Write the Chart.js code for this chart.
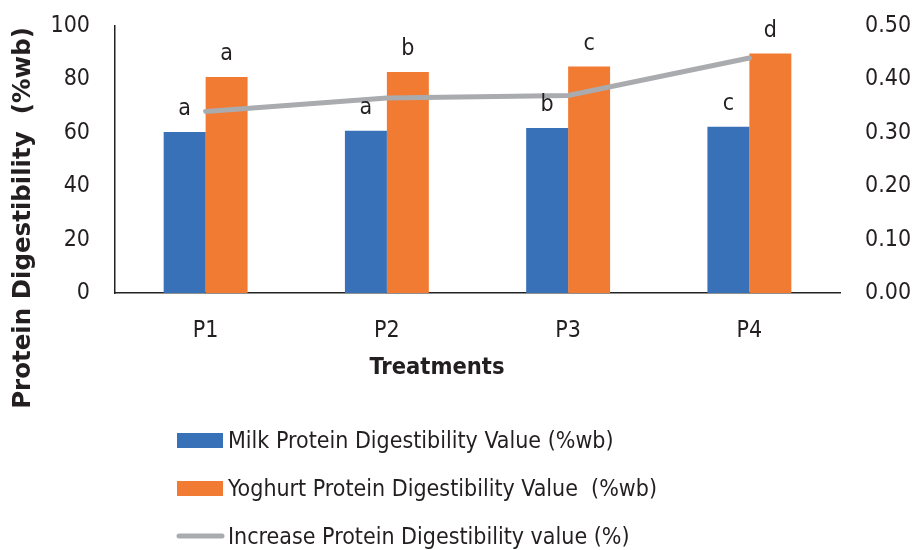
<!DOCTYPE html>
<html><head><meta charset="utf-8">
<script src="https://cdn.jsdelivr.net/npm/chart.js@4.4.1/dist/chart.umd.min.js"></script>
<style>html,body{margin:0;padding:0;background:#fff}#wrap{width:919px;height:550px;position:relative}</style>
</head><body><div id="wrap"><canvas id="c" width="919" height="550"></canvas></div>
<script>
const categories = ["P1","P2","P3","P4"];
const milkValues = [60.3, 60.8, 61.8, 62.3];
const yoghurtValues = [80.9, 82.8, 84.8, 89.7];
const increaseValues = [0.34, 0.365, 0.37, 0.44];
const milkLetters = ["a","a","b","c"];
const yoghurtLetters = ["a","b","c","d"];
const leftTicks = [0,20,40,60,80,100];
const rightTicks = [0,0.1,0.2,0.3,0.4,0.5];
const seriesNames = ["Milk Protein Digestibility Value (%wb)","Yoghurt Protein Digestibility Value  (%wb)","Increase Protein Digestibility value (%)"];

const FONT = "'DejaVu Sans Condensed','DejaVu Sans',sans-serif";
const TXT = '#231f20';

const extras = {
  id:'extras',
  afterDatasetsDraw(chart){
    const ctx = chart.ctx;
    ctx.save();
    ctx.fillStyle = TXT;
    ctx.font = "23px " + FONT;
    ctx.textAlign='center'; ctx.textBaseline='alphabetic';
    [[0,milkLetters],[1,yoghurtLetters]].forEach(([di,letters])=>{
      const meta = chart.getDatasetMeta(di);
      meta.data.forEach((bar,i)=>{ ctx.fillText(letters[i], bar.x, bar.y-17); });
    });
    ctx.restore();
  },
  afterDraw(chart){
    const ctx = chart.ctx;
    ctx.save();
    ctx.fillStyle = TXT;
    ctx.font = "bold 24.5px 'DejaVu Sans',sans-serif";
    ctx.translate(24, 218);
    ctx.rotate(-Math.PI/2);
    ctx.textAlign='center'; ctx.textBaseline='middle';
    ctx.fillText("Protein Digestibility  (%wb)",0,0);
    ctx.setTransform(1,0,0,1,0,0);
    ctx.font = "bold 23.5px " + FONT;
    ctx.textAlign='center'; ctx.textBaseline='middle';
    ctx.fillText("Treatments",437,368);
    const rows=[442,490,538];
    ctx.font = "23px " + FONT;
    ctx.textAlign='left';
    chart.data.datasets.forEach((ds,i)=>{
      const y=rows[i];
      if(ds.type==='line'){
        ctx.strokeStyle=ds.borderColor; ctx.lineWidth=5; ctx.lineCap='round';
        ctx.beginPath(); ctx.moveTo(179,y-2); ctx.lineTo(222,y-2); ctx.stroke();
      } else {
        ctx.fillStyle=ds.backgroundColor; ctx.fillRect(177,y-9,46,15);
      }
      ctx.fillStyle=TXT;
      ctx.fillText(ds.label,228,y);
    });
    ctx.restore();
  }
};

function fitV(w){ return function(s){ s.width=w; s.paddingTop=0; s.paddingBottom=0; }; }

new Chart(document.getElementById('c'),{
  data:{
    labels:categories,
    datasets:[
      {type:'bar',label:seriesNames[0],data:milkValues,backgroundColor:'#3871b7',yAxisID:'y',order:2,categoryPercentage:0.463,barPercentage:1},
      {type:'bar',label:seriesNames[1],data:yoghurtValues,backgroundColor:'#f17b32',yAxisID:'y',order:2,categoryPercentage:0.463,barPercentage:1},
      {type:'line',label:seriesNames[2],data:increaseValues,borderColor:'#a9abae',borderWidth:5,pointRadius:0,borderCapStyle:'round',tension:0,yAxisID:'y1',order:1}
    ]
  },
  options:{
    responsive:false,animation:false,
    layout:{padding:{top:26,left:0,right:0,bottom:0}},
    plugins:{legend:{display:false},tooltip:{enabled:false}},
    scales:{
      x:{
        grid:{display:false,drawTicks:false},
        border:{display:true,color:'#222',width:1.5},
        ticks:{color:TXT,font:{family:FONT,size:23},padding:24},
        afterFit(s){s.height=257; s.paddingLeft=0; s.paddingRight=0;}
      },
      y:{
        position:'left',min:0,max:100,
        afterBuildTicks(s){s.ticks=leftTicks.map(v=>({value:v}));},
        grid:{display:false,drawTicks:false},
        border:{display:true,color:'#222',width:1.5},
        ticks:{color:TXT,font:{family:FONT,size:23},padding:25},
        afterFit:fitV(115)
      },
      y1:{
        position:'right',min:0,max:0.5,
        afterBuildTicks(s){s.ticks=rightTicks.map(v=>({value:v}));},
        grid:{display:false,drawTicks:false},
        border:{display:false},
        ticks:{color:TXT,font:{family:FONT,size:23},padding:25,callback:v=>v.toFixed(2)},
        afterFit:fitV(79)
      }
    }
  },
  plugins:[extras]
});
</script></body></html>
